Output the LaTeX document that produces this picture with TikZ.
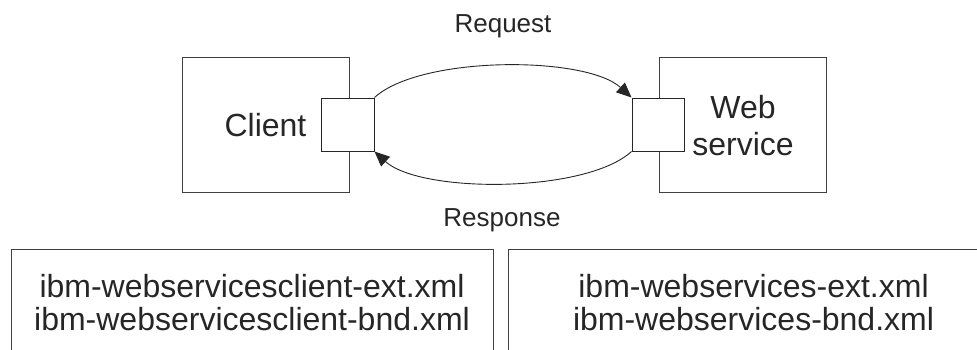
\documentclass[tikz,border=0pt]{standalone}
\usepackage{fontspec}
\setmainfont{Liberation Sans}
\usetikzlibrary{arrows.meta}
\begin{document}
\begin{tikzpicture}[x=1pt,y=-1pt,
  box/.style={draw=black!75, line width=1pt, inner sep=0pt},
  port/.style={draw=black!85, line width=1pt, fill=white, inner sep=0pt},
  lbl/.style={font=\fontsize{26}{30}\selectfont, text=black!85, inner sep=0pt},
  big/.style={font=\fontsize{32}{37}\selectfont, text=black!85, align=center, inner sep=0pt},
  file/.style={font=\fontsize{32}{33}\selectfont, text=black!85, align=center, inner sep=0pt},
  msg/.style={draw=black!85, line width=0.9pt, -{Triangle[length=15pt,width=13pt]}}]
\useasboundingbox (0,0) rectangle (977,349);
\begin{scope}
\clip (0,0) rectangle (977,349);
% main boxes
\node[box, minimum width=167pt, minimum height=135pt] (client) at (265.5,124.5) {};
\node[big, anchor=base] (clientlbl) at (265.5,136.7) {Client};
\node[box, minimum width=167pt, minimum height=135pt] (ws) at (742.5,124.5) {};
\node[big, anchor=base] (wslbl) at (743,155) {Web\\service};
% ports
\node[port, minimum width=53pt, minimum height=53pt] (cport) at (347.5,124.5) {};
\node[port, minimum width=52pt, minimum height=53pt] (wport) at (658,124.5) {};
% messages
\draw[msg] (cport.north east) .. controls +(46,-42) and +(-46,-42) .. (wport.north west);
\draw[msg] (wport.south west) .. controls +(-46,42) and +(46,42) .. (cport.south east);
\node[lbl, anchor=base] (req) at (503,32) {Request};
\node[lbl, anchor=base] (resp) at (502,226.7) {Response};
% descriptor boxes (open at the bottom, right one runs past the edge)
\coordinate (l1) at (11,360);
\coordinate (l2) at (11,249);
\coordinate (l3) at (493,249);
\coordinate (l4) at (493,360);
\draw[box] (l1) -- (l2) -- (l3) -- (l4);
\coordinate (r1) at (508,360);
\coordinate (r2) at (508,249);
\coordinate (r3) at (1000,249);
\draw[box] (r1) -- (r2) -- (r3);
\node[file, anchor=base] (clientfiles) at (252,330) {ibm-webservicesclient-ext.xml\\ibm-webservicesclient-bnd.xml};
\node[file, anchor=base] (wsfiles) at (753.5,330) {ibm-webservices-ext.xml\\ibm-webservices-bnd.xml};
\end{scope}
\end{tikzpicture}
\end{document}
